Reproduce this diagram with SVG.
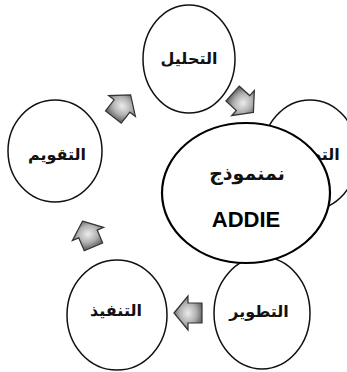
<svg xmlns="http://www.w3.org/2000/svg" width="347" height="372" viewBox="0 0 347 372">
<defs>
<radialGradient id="g" cx="50%" cy="50%" r="55%">
<stop offset="0%" stop-color="#ececec"/>
<stop offset="55%" stop-color="#b0b0b0"/>
<stop offset="100%" stop-color="#5e5e5e"/>
</radialGradient>
<path id="arr" d="M -14 0 L 0 -17 L 0 -10 L 14 -10 L 14 10 L 0 10 L 0 17 Z"/>
</defs>
<style>
.n{fill:#fff;stroke:#111;stroke-width:1.5}
.c{fill:#fff;stroke:#000;stroke-width:2.2}
.t{font-family:"DejaVu Sans","Liberation Sans",sans-serif;font-weight:bold;font-size:16px;fill:#111;text-anchor:middle}
.a{fill:url(#g);stroke:#333;stroke-width:1.2}
</style>
<rect width="347" height="372" fill="#fff"/>
<g id="design">
<ellipse class="n" cx="310" cy="155" rx="48" ry="55"/>
<text class="t" x="308" y="160" direction="rtl">التصميم</text>
</g>
<g id="analysis">
<ellipse class="n" cx="189" cy="59" rx="46" ry="54"/>
<text class="t" x="189" y="64">التحليل</text>
</g>
<g id="evaluation">
<ellipse class="n" cx="55" cy="151" rx="47" ry="51"/>
<text class="t" x="57" y="160">التقويم</text>
</g>
<g id="implementation">
<ellipse class="n" cx="117" cy="315" rx="50" ry="55"/>
<text class="t" x="116" y="316">التنفيذ</text>
</g>
<g id="development">
<ellipse class="n" cx="262" cy="313" rx="48" ry="56"/>
<text class="t" x="259" y="317">التطوير</text>
</g>
<g id="addie">
<ellipse class="c" cx="246" cy="193" rx="84" ry="70"/>
<text class="t" x="247" y="180" style="font-size:19px">نمنموذج</text>
<text x="246" y="227" style="font-family:'Liberation Sans',Arial,sans-serif;font-weight:bold;font-size:22px;fill:#000;text-anchor:middle">ADDIE</text>
</g>
<g id="connectors">
<use href="#arr" class="a" transform="translate(243,103) rotate(-138)"/>
<use href="#arr" class="a" transform="translate(122,106) rotate(128)"/>
<use href="#arr" class="a" transform="translate(88,234) rotate(67)"/>
<use href="#arr" class="a" transform="translate(188,313)"/>
</g>
</svg>
